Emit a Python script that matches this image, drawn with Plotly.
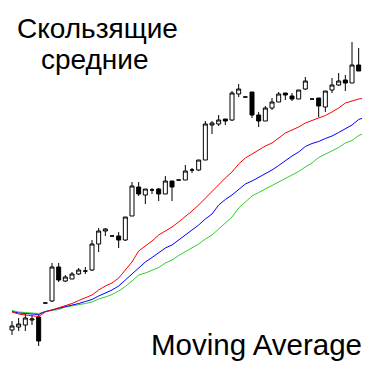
import plotly.graph_objects as go

# candle index (time)
bars = list(range(55))

open_ = [48, 51, 53, 58, 61, 75, 77, 111, 97, 99, 104, 107, 108, 134, 147, 142, 142, 138, 162, 191,
         183, 188, 189, 184, 197, 198, 198, 208, 208, 218, 253, 254, 259, 258, 284, 281, 286, 263, 257, 270,
         276, 285, 282, 279, 289, 279, 280, 271, 288, 293, 298, 295, 313, 306, 292]
high = [57, 60, 64, 63, 63, 75, 115, 115, 103, 106, 110, 111, 138, 150, 150, 142, 146, 161, 196, 196,
        189, 190, 190, 202, 197, 198, 213, 210, 218, 257, 257, 263, 259, 287, 294, 281, 286, 266, 272, 280,
        286, 285, 285, 288, 301, 279, 280, 287, 300, 305, 303, 336, 330, 313, 297]
low = [43, 47, 47, 53, 32, 75, 76, 96, 96, 99, 103, 104, 107, 126, 142, 142, 130, 137, 162, 182,
       174, 184, 177, 184, 177, 198, 198, 205, 207, 218, 244, 252, 253, 257, 281, 281, 260, 251, 257, 268,
       276, 278, 277, 279, 288, 279, 261, 266, 285, 292, 287, 295, 307, 292, 270]
close = [52, 54, 60, 59, 37, 75, 111, 98, 101, 104, 108, 107, 134, 147, 149, 142, 138, 161, 192, 184,
         189, 188, 184, 197, 191, 198, 207, 208, 218, 254, 255, 258, 257, 285, 289, 281, 263, 257, 270, 276,
         284, 283, 279, 288, 297, 279, 272, 287, 293, 297, 295, 313, 307, 292, 292]

ma_red = [66, 64, 63, 62, 61.5, 66, 68, 70.5, 72.5, 74.5, 77.5, 80, 83, 88, 92, 95, 100, 108, 116, 127,
          132, 137, 143, 147, 151, 156, 162, 167, 173, 180, 186, 194, 200, 206, 214, 220, 224, 228, 232, 235,
          240, 245, 248, 251, 255, 257.5, 260, 262.5, 266, 270, 275, 277, 279, 280, 280.5]
ma_blue = [66.5, 65, 64.5, 64, 63.5, 66.5, 68, 69.5, 71.5, 73, 74.5, 76.5, 78.5, 82, 85, 88, 92, 98, 104, 111,
           116, 120.5, 125.5, 130, 133, 138, 143, 147.5, 153, 159, 164, 173, 178.5, 183, 189, 194, 197, 200.5, 204, 208,
           212.5, 217.5, 222, 226, 231.5, 234.5, 236.5, 239.5, 242, 245.5, 249, 253, 258.5, 261, 263]
ma_green = [67.5, 66, 65.5, 65, 64.5, 66.5, 67.5, 68.5, 71, 72, 73, 74.5, 76, 79, 81, 83.5, 87, 91.5, 97, 103,
            105, 108, 110.5, 115, 118, 122.5, 126.5, 130, 134, 139, 143, 149, 155.5, 161, 170, 176, 182, 185.5, 189, 192,
            195.5, 199, 202.5, 206.5, 211, 215, 220.5, 224, 227, 230.5, 235, 237.5, 242.5, 245, 246]

title_ru_1 = "Скользящие"
title_ru_2 = "средние"
title_en = "Moving Average"

FONT = dict(family="Liberation Sans, Arial, sans-serif", size=28, color="black")
FONT_EN = dict(family="Liberation Sans, Arial, sans-serif", size=29.5, color="black")

fig = go.Figure()
fig.add_trace(go.Candlestick(
    x=bars, open=open_, high=high, low=low, close=close,
    increasing=dict(line=dict(color="black", width=1), fillcolor="white"),
    decreasing=dict(line=dict(color="black", width=1), fillcolor="black"),
    whiskerwidth=0, showlegend=False, hoverinfo="skip",
))
for vals, col in [(ma_green, "#33cc33"), (ma_blue, "#0000ff"), (ma_red, "#ff0000")]:
    fig.add_trace(go.Scatter(x=bars, y=vals, mode="lines",
                             line=dict(color=col, width=1), showlegend=False, hoverinfo="skip"))

fig.update_layout(
    width=370, height=370,
    margin=dict(l=0, r=0, t=0, b=0),
    paper_bgcolor="white", plot_bgcolor="white",
    boxgap=0.4, boxgroupgap=0,
    xaxis=dict(range=[-0.6, 54.9], visible=False, rangeslider=dict(visible=False)),
    yaxis=dict(range=[0, 370], visible=False),
    annotations=[
        dict(text=title_ru_1, xref="paper", yref="paper", x=89 / 370, y=1 - 20 / 370,
             xanchor="center", yanchor="middle", showarrow=False, font=FONT),
        dict(text=title_ru_2, xref="paper", yref="paper", x=87 / 370, y=1 - 51 / 370,
             xanchor="center", yanchor="middle", showarrow=False, font=FONT),
        dict(text=title_en, xref="paper", yref="paper", x=356 / 370, y=1 - 336 / 370,
             xanchor="right", yanchor="middle", showarrow=False, font=FONT_EN),
    ],
)

fig.write_html("out.html")
